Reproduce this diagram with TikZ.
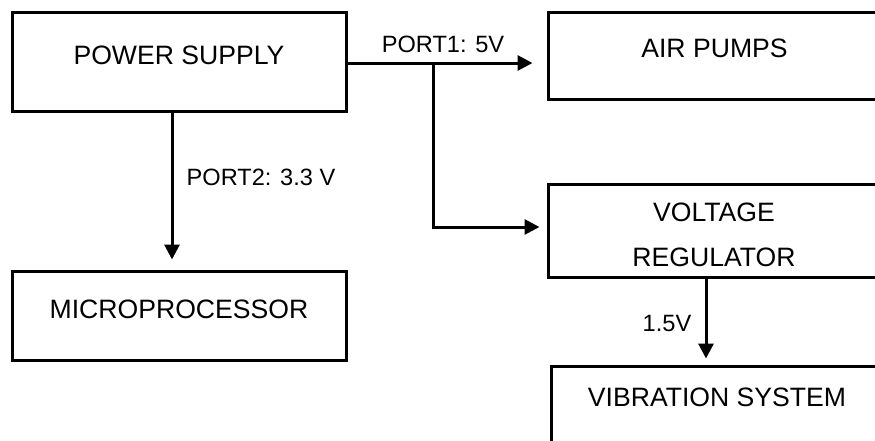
\documentclass[tikz,border=0pt]{standalone}
\usepackage{fontspec}
\setmainfont{Liberation Sans}
\usetikzlibrary{arrows.meta}
\begin{document}
\begin{tikzpicture}[x=1pt,y=-1pt,
  box/.style={draw=black, line width=3pt, rectangle, inner sep=0pt},
  boxtext/.style={font=\fontsize{26.6}{30}\selectfont, inner sep=0pt, anchor=base},
  lbl/.style={font=\fontsize{23.6}{27}\selectfont, inner sep=0pt, anchor=base},
  conn/.style={line width=3pt, -{Triangle[length=15pt,width=15pt]}}]
\useasboundingbox (0,0) rectangle (875,440);
\clip (0,0) rectangle (875,440);
% boxes
\node[box, minimum width=334pt, minimum height=99pt] (ps) at (179,61.5) {};
\node[box, minimum width=334pt, minimum height=89pt] (mp) at (179,315.5) {};
\node[box, minimum width=334pt, minimum height=87pt] (ap) at (715,55.5) {};
\node[box, minimum width=334pt, minimum height=93pt] (vr) at (715,230.5) {};
\node[box, minimum width=334pt, minimum height=90pt] (vb) at (718,411) {};
% box texts
\node[boxtext] (pst) at (179,64.5) {POWER SUPPLY};
\node[boxtext] (mpt) at (179,318.5) {MICROPROCESSOR};
\node[boxtext] (apt) at (714.5,57.5) {AIR PUMPS};
\node[boxtext] (vrt1) at (714,221.5) {VOLTAGE};
\node[boxtext] (vrt2) at (714,266.5) {REGULATOR};
\node[boxtext] (vbt) at (717,406.5) {VIBRATION SYSTEM};
% connectors
\coordinate (br) at (433,63);
\draw[conn, shorten >=14pt] ([yshift=-1.5pt]ps.east) -- ([yshift=-1.5pt]ps.east -| ap.west);
\draw[conn, shorten >=7pt] (br) |- ([yshift=3.5pt]vr.west);
\draw[conn, shorten >=10pt] ([xshift=-7pt]ps.south) -- ([xshift=-7pt]mp.north);
\draw[conn, shorten >=6pt] ([xshift=-9pt]vr.south) -- ([xshift=-9pt]vr.south |- vb.north);
% labels
\node[lbl] (l1) at (443,52) {PORT1: 5V};
\node[lbl] (l2) at (261,185.5) {PORT2: 3.3 V};
\node[lbl] (l3) at (667,331.5) {1.5V};
\end{tikzpicture}
\end{document}
